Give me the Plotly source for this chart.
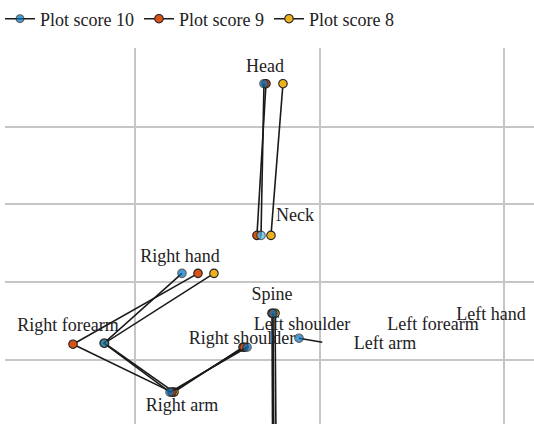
import plotly.graph_objects as go

# Joint names per series (None breaks a line segment)
joints = ["Head", "Neck", None, "Right hand", "Right forearm", "Right arm",
          "Right shoulder", None, "Spine", "Hip", None, "Left shoulder", "Left arm"]

# Plot score 10
x10 = [0.3398, 0.3366, None, 0.2509, 0.1664, 0.2379, 0.3214, None, 0.3496, 0.3510, None, 0.3778, 0.4030]
y10 = [0.7103, 0.3205, None, 0.2231, 0.0436, -0.0821, 0.0333, None, 0.1205, -0.40, None, 0.0564, 0.0460]
# Plot score 9
x9 = [0.3420, 0.3322, None, 0.2683, 0.1328, 0.2401, 0.3182, None, 0.3485, 0.3495]
y9 = [0.7103, 0.3205, None, 0.2231, 0.0410, -0.0821, 0.0333, None, 0.1205, -0.40]
# Plot score 8
x8 = [0.3604, 0.3474, None, 0.2856, 0.1670, 0.2423, 0.3171, None, 0.3518, 0.3535]
y8 = [0.7103, 0.3205, None, 0.2231, 0.0436, -0.0821, 0.0333, None, 0.1205, -0.40]

# Joint labels
label_text = ["Head", "Neck", "Right hand", "Right forearm", "Right arm", "Right shoulder",
              "Spine", "Left shoulder", "Left arm", "Left forearm", "Left hand"]
label_x = [0.3409, 0.3734, 0.2488, 0.1274, 0.2509, 0.3160, 0.3485, 0.3810, 0.4710, 0.5230, 0.5859]
label_y = [0.7513, 0.3692, 0.2641, 0.0872, -0.1179, 0.0538, 0.1667, 0.0897, 0.0410, 0.0897, 0.1154]

series_names = ["Plot score 10", "Plot score 9", "Plot score 8"]
colors = ["#0072BD", "#D95319", "#EDB120"]

FONT = "Liberation Serif"
fig = go.Figure()

blue_cols = [colors[0]] * len(x10)
blue_cols[1] = "#4DBEEE"
blue_sizes = [8.5] * len(x10)
blue_sizes[-1] = 0

mline = dict(color="#222222", width=1.1)
fig.add_trace(go.Scatter(x=x8, y=y8, mode="lines+markers", name=series_names[2],
                         line=dict(color="#1a1a1a", width=1.6),
                         marker=dict(color=colors[2], size=8.5, line=mline)))
fig.add_trace(go.Scatter(x=x9, y=y9, mode="lines+markers", name=series_names[1],
                         line=dict(color="#1a1a1a", width=1.6),
                         marker=dict(color=colors[1], size=8.5, line=mline)))
fig.add_trace(go.Scatter(x=x10, y=y10, mode="lines+markers", name=series_names[0],
                         line=dict(color="#1a1a1a", width=1.6),
                         marker=dict(color=blue_cols, size=blue_sizes, line=mline)))

fig.add_trace(go.Scatter(x=label_x, y=label_y, mode="text", text=label_text,
                         textposition="middle center", showlegend=False, hoverinfo="skip",
                         textfont=dict(family=FONT, size=18, color="#222222")))

fig.update_layout(
    width=534, height=424,
    margin=dict(l=5, r=0, t=48, b=0, autoexpand=False),
    paper_bgcolor="white", plot_bgcolor="white",
    font=dict(family=FONT, size=18, color="#222222"),
    legend=dict(orientation="h", xref="container", yref="container", x=0, xanchor="left",
                y=1 - 19 / 424, yanchor="middle",
                traceorder="reversed", font=dict(family=FONT, size=18), itemwidth=30,
                bgcolor="rgba(0,0,0,0)"),
    showlegend=True,
)
fig.update_xaxes(range=[0.0591, 0.6325], dtick=0.2, tick0=0, showgrid=True, gridcolor="#c6c6c6",
                 gridwidth=1.6, zeroline=False, showticklabels=False, ticks="", showline=False)
fig.update_yaxes(range=[-0.164, 0.802], dtick=0.2, tick0=0, showgrid=True, gridcolor="#c6c6c6",
                 gridwidth=1.6, zeroline=False, showticklabels=False, ticks="", showline=False)

fig.write_html("out.html", config={"displayModeBar": False},
               post_script="document.body.style.margin='0px';")
